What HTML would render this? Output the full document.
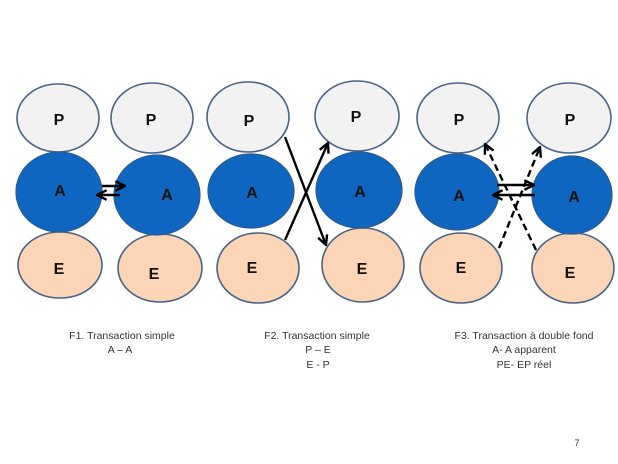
<!DOCTYPE html>
<html><head><meta charset="utf-8"><style>
html,body{margin:0;padding:0;background:#fff;}
svg{display:block;}
.l{font-family:"Liberation Sans",Arial,sans-serif;font-weight:bold;font-size:16px;fill:#111;}
.t{font-family:"Liberation Sans",Arial,sans-serif;font-size:10.5px;fill:#333;}
</style></head><body>
<svg width="618" height="464" viewBox="0 0 618 464" xmlns="http://www.w3.org/2000/svg">
<defs>
<marker id="ah" viewBox="0 0 10 10" refX="9" refY="5" markerWidth="5" markerHeight="5" orient="auto" markerUnits="strokeWidth">
<path d="M1,1 L9,5 L1,9" fill="none" stroke="#000" stroke-width="2"/>
</marker>
</defs>
<g stroke="#4a6385" stroke-width="1.6">
<ellipse cx="58" cy="118" rx="41" ry="34" fill="#f2f2f2"/>
<ellipse cx="152" cy="118" rx="41" ry="35" fill="#f2f2f2"/>
<ellipse cx="248" cy="117" rx="41" ry="35" fill="#f2f2f2"/>
<ellipse cx="357" cy="116" rx="42" ry="35" fill="#f2f2f2"/>
<ellipse cx="458" cy="118" rx="41" ry="35" fill="#f2f2f2"/>
<ellipse cx="569" cy="118" rx="42" ry="35" fill="#f2f2f2"/>
<ellipse cx="60" cy="265" rx="42" ry="33" fill="#fbd5b5"/>
<ellipse cx="160" cy="268" rx="42" ry="34" fill="#fbd5b5"/>
<ellipse cx="258" cy="268" rx="41" ry="35" fill="#fbd5b5"/>
<ellipse cx="363" cy="265" rx="41" ry="37" fill="#fbd5b5"/>
<ellipse cx="461" cy="268" rx="41" ry="35" fill="#fbd5b5"/>
<ellipse cx="573" cy="268" rx="41" ry="35" fill="#fbd5b5"/>
</g>
<g stroke="#2c5a90" stroke-width="1.2" fill="#0f66c0">
<ellipse cx="59" cy="192" rx="43" ry="40"/>
<ellipse cx="157" cy="195" rx="43" ry="40"/>
<ellipse cx="251" cy="191" rx="43" ry="37"/>
<ellipse cx="359" cy="190" rx="43" ry="38"/>
<ellipse cx="457" cy="192" rx="42" ry="38"/>
<ellipse cx="572" cy="195" rx="40" ry="39"/>
</g>
<g class="l" text-anchor="middle">
<text x="59" y="125">P</text>
<text x="151" y="125">P</text>
<text x="249" y="126">P</text>
<text x="356" y="122">P</text>
<text x="459" y="125">P</text>
<text x="570" y="125">P</text>
<text x="60" y="196">A</text>
<text x="167" y="200">A</text>
<text x="252" y="198">A</text>
<text x="360" y="197">A</text>
<text x="459" y="201">A</text>
<text x="574" y="202">A</text>
<text x="59" y="274">E</text>
<text x="154" y="279">E</text>
<text x="252" y="273">E</text>
<text x="362" y="274">E</text>
<text x="461" y="273">E</text>
<text x="570" y="278">E</text>
</g>
<g stroke="#000" stroke-width="2.4" fill="none">
<line x1="102" y1="186" x2="125" y2="186" marker-end="url(#ah)"/>
<line x1="120" y1="195" x2="97" y2="195" marker-end="url(#ah)"/>
<line x1="285" y1="137" x2="326" y2="245" marker-end="url(#ah)"/>
<line x1="285" y1="240" x2="328" y2="143" marker-end="url(#ah)"/>
<line x1="497" y1="185" x2="534" y2="185" marker-end="url(#ah)"/>
<line x1="535" y1="195" x2="493" y2="195" marker-end="url(#ah)"/>
<line x1="536" y1="250" x2="485" y2="144" stroke-dasharray="7,4" marker-end="url(#ah)"/>
<line x1="499" y1="248" x2="540" y2="147" stroke-dasharray="7,4" marker-end="url(#ah)"/>
</g>
<g class="t" text-anchor="middle">
<text x="122" y="339">F1. Transaction simple</text>
<text x="120" y="353">A – A</text>
<text x="317" y="339">F2. Transaction simple</text>
<text x="318" y="353">P – E</text>
<text x="318" y="368">E - P</text>
<text x="524" y="339">F3. Transaction à double fond</text>
<text x="524" y="353">A- A apparent</text>
<text x="524" y="368">PE- EP réel</text>
<text x="577" y="446" style="font-size:9px">7</text>
</g>
</svg>
</body></html>
